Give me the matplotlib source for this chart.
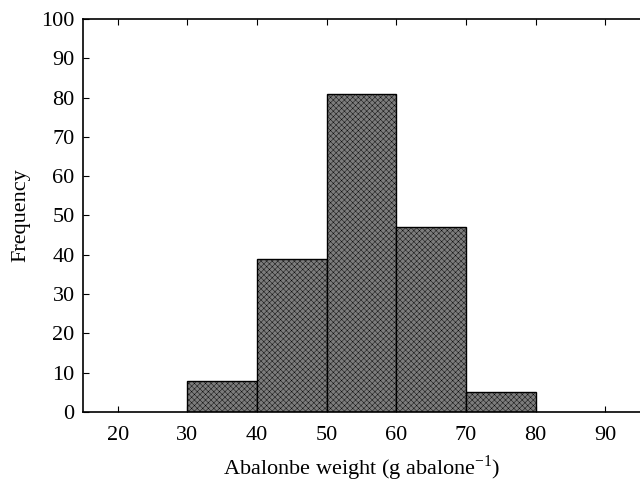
import matplotlib.pyplot as plt
import matplotlib as mpl

mpl.rcParams['font.family'] = 'Liberation Serif'
mpl.rcParams['mathtext.fontset'] = 'custom'
mpl.rcParams['mathtext.rm'] = 'Liberation Serif'
mpl.rcParams['hatch.color'] = '#5a5a5a'
mpl.rcParams['hatch.linewidth'] = 0.3

# weight classes (lower bin edges) and counts
bin_left = [30, 40, 50, 60, 70]
counts = [8, 39, 81, 47, 5]
bin_width = 10

fig = plt.figure(figsize=(6.4, 4.86), dpi=100)
ax = fig.add_axes([0.1297, 0.1523, 0.8703, 0.8086])

ax.bar(bin_left, counts, width=bin_width, align='edge',
       facecolor='#7c7c7c', edgecolor='black', linewidth=1.0, hatch='xxxxxx')

ax.set_xlim(15, 95)
ax.set_ylim(0, 100)
ax.set_xticks(range(20, 100, 10))
ax.set_yticks(range(0, 101, 10))
ax.tick_params(direction='in', length=4, width=0.8, labelsize=16,
               top=True, right=False, pad=6)
ax.tick_params(axis='x', pad=10)
ax.spines['right'].set_visible(False)
for s in ['left', 'bottom', 'top']:
    ax.spines[s].set_linewidth(1.2)

ax.set_xlabel('Abalonbe weight (g abalone$^{\\mathrm{-1}}$)', fontsize=16, labelpad=6)
ax.set_ylabel('Frequency', fontsize=16, labelpad=8)

fig.savefig('out.png', dpi=100)
